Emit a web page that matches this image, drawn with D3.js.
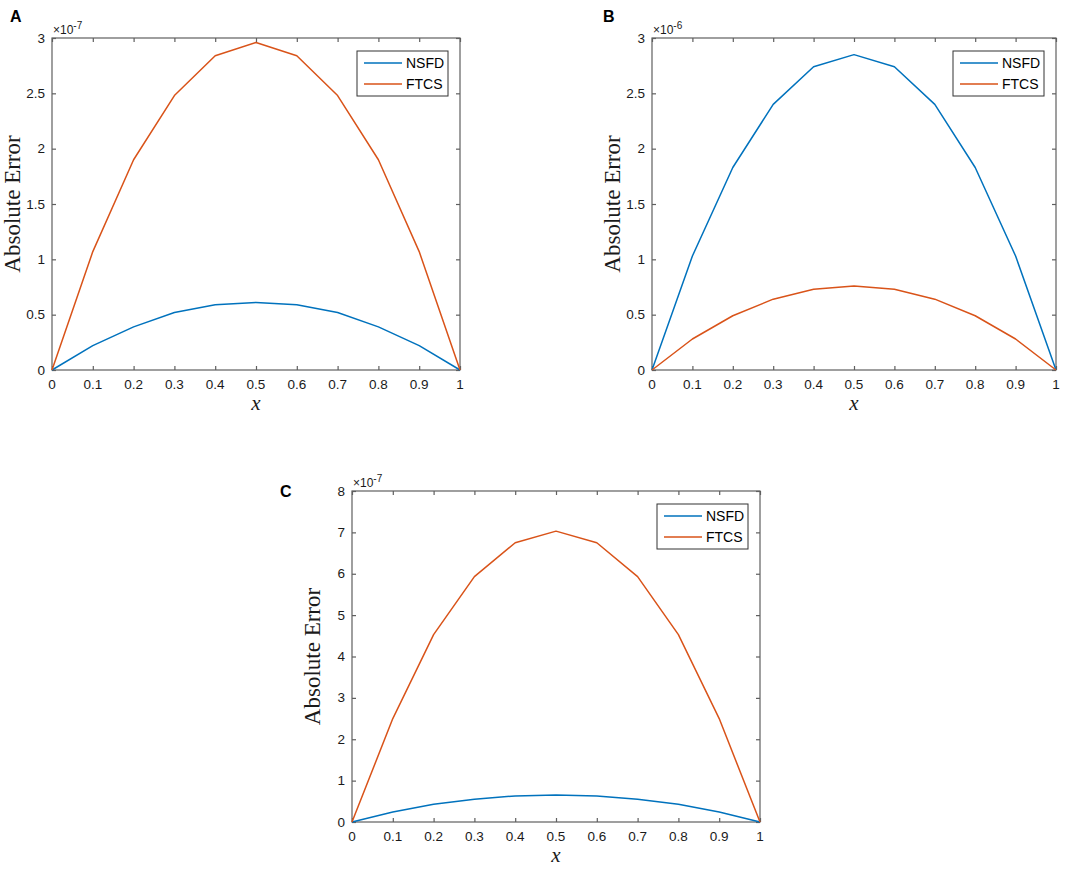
<!DOCTYPE html>
<html>
<head>
<meta charset="utf-8">
<script src="https://cdn.jsdelivr.net/npm/d3@7"></script>
<style>
  body { margin: 0; background: #fff; }
  svg { display: block; }
</style>
</head>
<body>
<div id="chart"></div>
<script>
// x grid shared by all three panels
const xs = [0, 0.1, 0.2, 0.3, 0.4, 0.5, 0.6, 0.7, 0.8, 0.9, 1];
const xTicks = [0, 0.1, 0.2, 0.3, 0.4, 0.5, 0.6, 0.7, 0.8, 0.9, 1];

// panel A (x 10^-7)
const nsfdA = [0, 0.22, 0.39, 0.52, 0.59, 0.61, 0.59, 0.52, 0.39, 0.22, 0];
const ftcsA = [0, 1.07, 1.90, 2.48, 2.84, 2.96, 2.84, 2.48, 1.90, 1.07, 0];
const yTicksA = [0, 0.5, 1, 1.5, 2, 2.5, 3];

// panel B (x 10^-6)
const nsfdB = [0, 1.03, 1.83, 2.40, 2.74, 2.85, 2.74, 2.40, 1.83, 1.03, 0];
const ftcsB = [0, 0.28, 0.49, 0.64, 0.73, 0.76, 0.73, 0.64, 0.49, 0.28, 0];
const yTicksB = [0, 0.5, 1, 1.5, 2, 2.5, 3];

// panel C (x 10^-7)
const nsfdC = [0, 0.24, 0.43, 0.55, 0.63, 0.65, 0.63, 0.55, 0.43, 0.24, 0];
const ftcsC = [0, 2.50, 4.53, 5.93, 6.75, 7.03, 6.75, 5.93, 4.53, 2.50, 0];
const yTicksC = [0, 1, 2, 3, 4, 5, 6, 7, 8];

const seriesNames = ["NSFD", "FTCS"];
const colors = ["#0072BD", "#D95319"];

const W = 1084, H = 870;
const svg = d3.select("#chart").append("svg")
    .attr("width", W)
    .attr("height", H);

const sans = "'Liberation Sans', Arial, Helvetica, sans-serif";
const serif = "'Liberation Serif', 'DejaVu Serif', serif";
const axisColor = "#5f5f5f";

function panel(opts) {
  const {left, right, top, bottom, letter, exp, ymax, yTicks, nsfd, ftcs} = opts;

  const x = d3.scaleLinear().domain([0, 1]).range([left, right]);
  const y = d3.scaleLinear().domain([0, ymax]).range([bottom, top]);

  const g = svg.append("g");

  // box
  g.append("rect")
    .attr("x", left).attr("y", top)
    .attr("width", right - left).attr("height", bottom - top)
    .attr("fill", "none")
    .attr("stroke", axisColor)
    .attr("stroke-width", 1.2);

  // inward ticks on all four sides
  const tl = 4;
  g.append("g").attr("transform", `translate(0,${bottom})`)
    .call(d3.axisTop(x).tickValues(xTicks).tickSize(tl).tickFormat(""))
    .call(a => a.select(".domain").remove());
  g.append("g").attr("transform", `translate(0,${top})`)
    .call(d3.axisBottom(x).tickValues(xTicks).tickSize(tl).tickFormat(""))
    .call(a => a.select(".domain").remove());
  g.append("g").attr("transform", `translate(${left},0)`)
    .call(d3.axisRight(y).tickValues(yTicks).tickSize(tl).tickFormat(""))
    .call(a => a.select(".domain").remove());
  g.append("g").attr("transform", `translate(${right},0)`)
    .call(d3.axisLeft(y).tickValues(yTicks).tickSize(tl).tickFormat(""))
    .call(a => a.select(".domain").remove());
  g.selectAll(".tick line").attr("stroke", axisColor).attr("stroke-width", 1.2);

  // tick labels
  g.selectAll(".xlab")
    .data(xTicks)
    .join("text")
      .attr("x", d => x(d))
      .attr("y", bottom + 19)
      .attr("text-anchor", "middle")
      .style("font-family", sans)
      .style("font-size", "13.5px")
      .attr("fill", "#1a1a1a")
      .text(d => d3.format("~g")(d));

  g.selectAll(".ylab")
    .data(yTicks)
    .join("text")
      .attr("x", left - 7)
      .attr("y", d => y(d) + 4.5)
      .attr("text-anchor", "end")
      .style("font-family", sans)
      .style("font-size", "13.5px")
      .attr("fill", "#1a1a1a")
      .text(d => d3.format("~g")(d));

  // exponent
  const ex = g.append("text")
    .attr("x", left + 1)
    .attr("y", top - 4)
    .style("font-family", sans)
    .style("font-size", "12px")
    .attr("fill", "#1a1a1a");
  ex.append("tspan").text("\u00d710");
  ex.append("tspan").attr("dy", -5).style("font-size", "10px").text(exp);

  // axis titles
  g.append("text")
    .attr("transform", `translate(${left - 32},${(top + bottom) / 2}) rotate(-90)`)
    .attr("text-anchor", "middle")
    .style("font-family", serif)
    .style("font-size", "23px")
    .attr("fill", "#1a1a1a")
    .text("Absolute Error");

  g.append("text")
    .attr("x", (left + right) / 2)
    .attr("y", bottom + 40)
    .attr("text-anchor", "middle")
    .style("font-family", serif)
    .style("font-style", "italic")
    .style("font-size", "21px")
    .attr("fill", "#1a1a1a")
    .text("x");

  // panel letter
  g.append("text")
    .attr("x", letter.x)
    .attr("y", letter.y)
    .style("font-family", sans)
    .style("font-weight", "bold")
    .style("font-size", "16px")
    .attr("fill", "#000")
    .text(letter.t);

  // lines
  const line = d3.line().x((d, i) => x(xs[i])).y(d => y(d));
  [nsfd, ftcs].forEach((s, k) => {
    g.append("path")
      .datum(s)
      .attr("d", line)
      .attr("fill", "none")
      .attr("stroke", colors[k])
      .attr("stroke-width", 1.5)
      .attr("stroke-linejoin", "round");
  });

  // legend
  const lw = 91, lh = 45;
  const lx = right - 12 - lw, ly = top + 13;
  const leg = g.append("g").attr("transform", `translate(${lx},${ly})`);
  leg.append("rect")
    .attr("width", lw).attr("height", lh)
    .attr("fill", "#fff")
    .attr("stroke", "#333")
    .attr("stroke-width", 1);
  seriesNames.forEach((n, k) => {
    const ry = 12 + k * 21;
    leg.append("line")
      .attr("x1", 7).attr("x2", 45)
      .attr("y1", ry).attr("y2", ry)
      .attr("stroke", colors[k])
      .attr("stroke-width", 1.5);
    leg.append("text")
      .attr("x", 49).attr("y", ry + 5)
      .style("font-family", sans)
      .style("font-size", "14px")
      .attr("fill", "#000")
      .text(n);
  });
}

panel({left: 52, right: 460, top: 38, bottom: 370,
       letter: {t: "A", x: 10, y: 22}, exp: "-7", ymax: 3,
       yTicks: yTicksA, nsfd: nsfdA, ftcs: ftcsA});
panel({left: 652, right: 1056, top: 38, bottom: 370,
       letter: {t: "B", x: 603, y: 22}, exp: "-6", ymax: 3,
       yTicks: yTicksB, nsfd: nsfdB, ftcs: ftcsB});
panel({left: 352, right: 760, top: 491, bottom: 822,
       letter: {t: "C", x: 280, y: 497}, exp: "-7", ymax: 8,
       yTicks: yTicksC, nsfd: nsfdC, ftcs: ftcsC});
</script>
</body>
</html>
